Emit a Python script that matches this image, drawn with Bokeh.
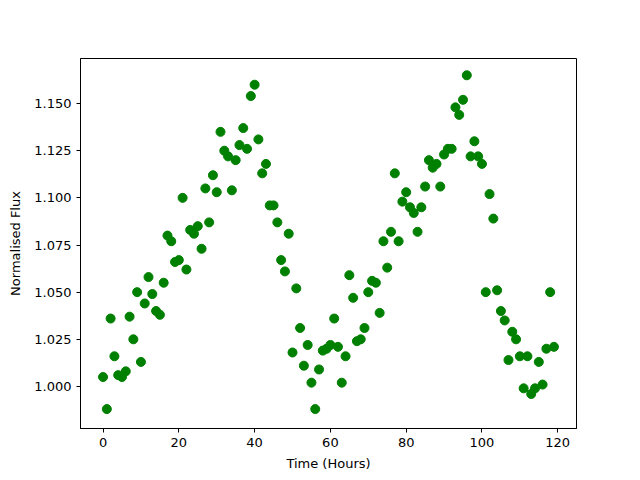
from bokeh.plotting import figure
from bokeh.models import FixedTicker, NumeralTickFormatter, Range1d
from bokeh.embed import file_html
from bokeh.resources import INLINE

hours = list(range(120))
flux = [1.005, 0.988, 1.036, 1.016, 1.006, 1.005, 1.008, 1.037, 1.025, 1.050,
        1.013, 1.044, 1.058, 1.049, 1.040, 1.038, 1.055, 1.080, 1.077, 1.066,
        1.067, 1.100, 1.062, 1.083, 1.081, 1.085, 1.073, 1.105, 1.087, 1.112,
        1.103, 1.135, 1.125, 1.122, 1.104, 1.120, 1.128, 1.137, 1.126, 1.154,
        1.160, 1.131, 1.113, 1.118, 1.096, 1.096, 1.087, 1.067, 1.061, 1.081,
        1.018, 1.052, 1.031, 1.011, 1.022, 1.002, 0.988, 1.009, 1.019, 1.020,
        1.022, 1.036, 1.021, 1.002, 1.016, 1.059, 1.047, 1.024, 1.025, 1.031,
        1.050, 1.056, 1.055, 1.039, 1.077, 1.063, 1.082, 1.113, 1.077, 1.098,
        1.103, 1.095, 1.092, 1.082, 1.095, 1.106, 1.120, 1.116, 1.118, 1.106,
        1.123, 1.126, 1.126, 1.148, 1.144, 1.152, 1.165, 1.122, 1.130, 1.122,
        1.118, 1.050, 1.102, 1.089, 1.051, 1.040, 1.035, 1.014, 1.029, 1.025,
        1.016, 0.999, 1.016, 0.996, 0.999, 1.013, 1.001, 1.020, 1.050, 1.021]
x_ticks = [0, 20, 40, 60, 80, 100, 120]
y_ticks = [1.000, 1.025, 1.050, 1.075, 1.100, 1.125, 1.150]

p = figure(output_backend="svg", toolbar_location=None,
           frame_width=496, frame_height=370,
           min_border_left=80, min_border_right=58,
           min_border_top=58, min_border_bottom=46,
           x_range=Range1d(-5.95, 124.95), y_range=Range1d(0.9777, 1.1739))

p.scatter(hours, flux, size=9, color="green", line_color="green")

p.grid.visible = False
p.outline_line_color = "black"
p.outline_line_width = 1
p.background_fill_color = "white"
p.border_fill_color = "white"

p.xaxis.ticker = FixedTicker(ticks=x_ticks)
p.yaxis.ticker = FixedTicker(ticks=y_ticks)
p.yaxis.formatter = NumeralTickFormatter(format="0.000")
p.xaxis.axis_label = "Time (Hours)"
p.yaxis.axis_label = "Normalised Flux"

for ax in (p.xaxis, p.yaxis):
    ax.axis_line_color = "black"
    ax.major_tick_line_color = "black"
    ax.major_tick_in = 0
    ax.major_tick_out = 4
    ax.minor_tick_line_color = None
    ax.major_label_text_font = "DejaVu Sans"
    ax.major_label_text_font_size = "13px"
    ax.major_label_text_color = "black"
    ax.axis_label_text_font = "DejaVu Sans"
    ax.axis_label_text_font_size = "13px"
    ax.axis_label_text_font_style = "normal"
    ax.axis_label_text_color = "black"

p.xaxis.major_label_standoff = 5
p.yaxis.major_label_standoff = 5
p.xaxis.axis_label_standoff = 6
p.yaxis.axis_label_standoff = 8

open("out.html", "w").write(file_html(p, INLINE))
